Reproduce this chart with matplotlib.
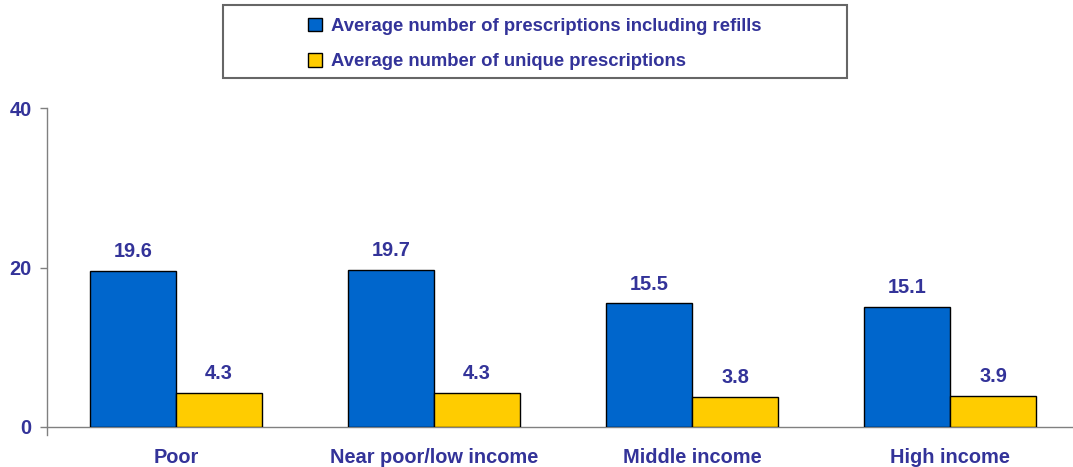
import matplotlib
matplotlib.use("Agg")
import matplotlib.pyplot as plt
from matplotlib.patches import Rectangle, Patch
import numpy as np

categories = ["Poor", "Near poor/low income", "Middle income", "High income"]
including_refills = [19.6, 19.7, 15.5, 15.1]
unique_rx = [4.3, 4.3, 3.8, 3.9]
series_names = ["Average number of prescriptions including refills",
                "Average number of unique prescriptions"]
yticks = [0, 20, 40]

text_color = "#333399"
blue = "#0066CC"
yellow = "#FFCC00"
axis_gray = "#808080"
font = "Liberation Sans"
fs = 14.4

W, H = 1073, 467
fig = plt.figure(figsize=(W / 100, H / 100), dpi=100)
ax = fig.add_axes([47 / W, 40 / H, 1032 / W, 319 / H])

x = np.arange(len(categories))
bw = 1 / 3
b1 = ax.bar(x - bw / 2, including_refills, bw, color=blue, edgecolor="black", linewidth=1, zorder=3)
b2 = ax.bar(x + bw / 2, unique_rx, bw, color=yellow, edgecolor="black", linewidth=1, zorder=3)

for bars, vals in ((b1, including_refills), (b2, unique_rx)):
    for rect, v in zip(bars, vals):
        ax.annotate(f"{v:.1f}", (rect.get_x() + rect.get_width() / 2, v),
                    xytext=(0, 7), textcoords="offset points", ha="center", va="bottom",
                    color=text_color, fontsize=fs, fontweight="bold", family=font)

ax.set_xlim(-0.5, len(categories) - 0.5)
ax.set_ylim(0, 40)
ax.set_yticks(yticks)
ax.set_yticklabels([str(t) for t in yticks], color=text_color, fontsize=fs,
                   fontweight="bold", family=font)
ax.set_xticks(x)
ax.set_xticklabels(categories, color=text_color, fontsize=fs, fontweight="bold", family=font)
ax.tick_params(axis="x", length=0, pad=15)
ax.tick_params(axis="y", length=5, width=1, color=axis_gray, pad=6, direction="out")

for s in ("top", "right"):
    ax.spines[s].set_visible(False)
ax.spines["left"].set_color(axis_gray)
ax.spines["bottom"].set_color(axis_gray)
ax.spines["left"].set_bounds(-1, 40)
ax.spines["left"].set_linewidth(1)
ax.spines["bottom"].set_linewidth(1)

# legend box
fig.patches.append(Rectangle((223 / W, (H - 78) / H), 624 / W, 73 / H,
                             transform=fig.transFigure, facecolor="white",
                             edgecolor="#666666", linewidth=1.5, zorder=0))
handles = [Patch(facecolor=blue, edgecolor="black", linewidth=1),
           Patch(facecolor=yellow, edgecolor="black", linewidth=1)]
leg = fig.legend(handles, series_names, loc="center", bbox_to_anchor=(535 / W, (H - 44) / H),
                 frameon=False, handlelength=0.75, handleheight=0.75, handletextpad=0.5,
                 labelspacing=1.0,
                 prop={"family": font, "weight": "bold", "size": 13.3})
for t in leg.get_texts():
    t.set_color(text_color)

fig.savefig("out.png", dpi=100)
